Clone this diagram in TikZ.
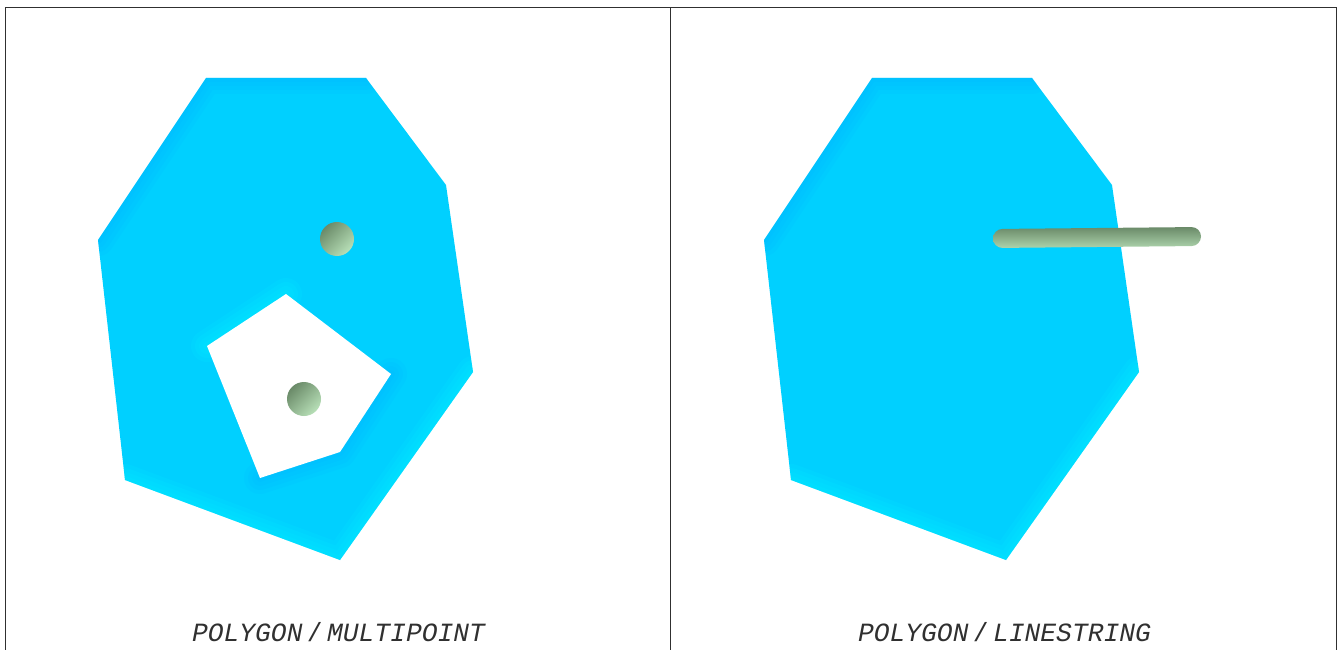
\documentclass[tikz,border=0pt]{standalone}
\usepackage{fontspec}
\setmonofont{Liberation Mono}
\usepackage{tikz}
\usetikzlibrary{calc}
\definecolor{GeoBlue}{HTML}{00D0FF}
\definecolor{GeoDark}{HTML}{00B4FF}
\definecolor{GeoLight}{HTML}{00F4FF}
\definecolor{GeoFrame}{HTML}{303030}
\definecolor{GeoInk}{HTML}{303030}
\definecolor{GeoShadeA}{HTML}{6A8A68}
\definecolor{GeoShadeB}{HTML}{B8E0B8}
\newcommand{\polyshape}{(206,78) -- (366,78) -- (446,185) -- (473,372) -- (340,560) -- (125,480) -- (98,240) -- cycle}
\newcommand{\captext}[1]{\itshape POLYGON\,{\upshape/}\,#1}

\begin{document}
\begin{tikzpicture}[
    x=1pt,y=-1pt,
    frameline/.style={draw=GeoFrame,line width=1.2pt},
    caption/.style={font=\fontsize{26.3}{28}\ttfamily\selectfont,text=GeoInk,anchor=base,inner sep=0pt},
    dot/.style={circle,draw=none,minimum size=34pt,inner sep=0pt,shading=axis,top color=GeoShadeA,bottom color=GeoShadeB,shading angle=45},
    bevel/.style={line width=#1,opacity=0.13,line cap=round,line join=round}
  ]
    \useasboundingbox (0,0) rectangle (1341,650);

    % frame
    \coordinate (tl) at (5.5,7.5);
    \coordinate (tr) at (1336.5,7.5);
    \coordinate (bl) at (5.5,650);
    \coordinate (br) at (1336.5,650);
    \coordinate (tm) at (670.5,7.5);
    \coordinate (bm) at (670.5,650);
    \draw[frameline] (bl) -- (tl) -- (tr) -- (br);
    \draw[frameline] (tm) -- (bm);

    % left polygon
    \fill[GeoBlue] \polyshape;
    \begin{scope}
      \clip \polyshape;
      \foreach \w in {8pt,16pt,24pt,32pt} {
        \draw[GeoDark,bevel=\w] (98,240) -- (206,78) -- (366,78);
        \draw[GeoLight,bevel=\w] (473,372) -- (340,560) -- (125,480);
        \draw[GeoLight,bevel=\w] (207,346) -- (286,294);
        \draw[GeoDark,bevel=\w] (391,374) -- (340,452) -- (260,478);
      }
    \end{scope}
    \fill[white] (286,294) -- (391,374) -- (340,452) -- (260,478) -- (207,346) -- cycle;
    \node[dot] (ptA) at (337,239) {};
    \node[dot] (ptB) at (304,399) {};
    \node[caption] (capA) at (338.5,641) {\captext{MULTIPOINT}};

    % right polygon
    \begin{scope}[xshift=666pt]
      \fill[GeoBlue] \polyshape;
      \begin{scope}
        \clip \polyshape;
        \foreach \w in {8pt,16pt,24pt,32pt} {
          \draw[GeoDark,bevel=\w] (98,240) -- (206,78) -- (366,78);
          \draw[GeoLight,bevel=\w] (473,372) -- (340,560) -- (125,480);
        }
      \end{scope}
      \node[caption] (capB) at (338.5,641) {\captext{LINESTRING}};
    \end{scope}

    % linestring
    \shade[rounded corners=9.5pt,top color=GeoShadeA,bottom color=GeoShadeB!85!GeoShadeA]
      (993,229) -- (1201,227) -- (1201,246) -- (993,248) -- cycle;
  \end{tikzpicture}
\end{document}
